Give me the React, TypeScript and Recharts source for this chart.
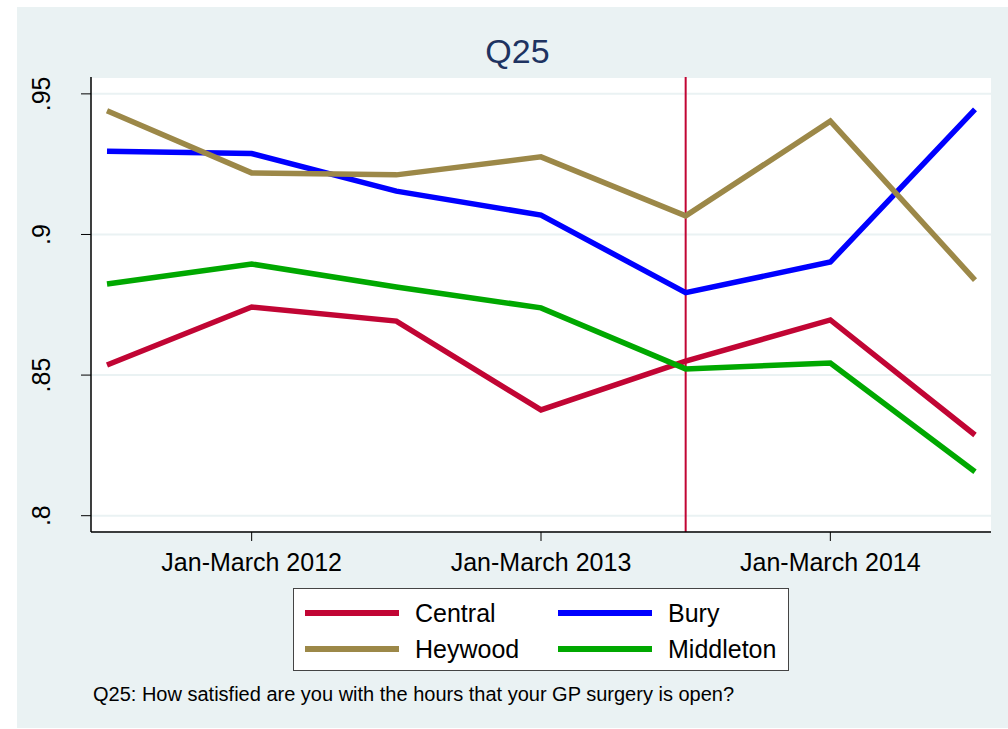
import { LineChart, Line, XAxis, YAxis, CartesianGrid, ReferenceLine } from 'recharts';

const periods = [0, 1, 2, 3, 4, 5, 6];
const central = [0.8536, 0.8742, 0.8692, 0.8376, 0.855, 0.8696, 0.8287];
const bury = [0.9296, 0.9288, 0.9154, 0.9069, 0.8793, 0.8902, 0.9445];
const heywood = [0.944, 0.9219, 0.9212, 0.9276, 0.9066, 0.9403, 0.8838];
const middleton = [0.8824, 0.8895, 0.8813, 0.8739, 0.8522, 0.8543, 0.8156];

const xTicks = [1, 3, 5];
const xTickLabels: Record<number, string> = {
  1: 'Jan-March 2012',
  3: 'Jan-March 2013',
  5: 'Jan-March 2014',
};
const yTicks = [0.8, 0.85, 0.9, 0.95];

const data = periods.map((p, i) => ({
  t: p,
  Central: central[i],
  Bury: bury[i],
  Heywood: heywood[i],
  Middleton: middleton[i],
}));

const series = [
  { key: 'Central', color: '#C10534' },
  { key: 'Bury', color: '#0000FF' },
  { key: 'Heywood', color: '#9C8848' },
  { key: 'Middleton', color: '#00A800' },
];

const FONT = '"Liberation Sans", Arial, sans-serif';

const fmtY = (v: number) => String(Number(v.toFixed(2))).replace(/^0/, '');

const YTick = (props: any) => {
  const { y, payload } = props;
  return (
    <text
      transform={`translate(50,${y}) rotate(-90)`}
      textAnchor="middle"
      fontSize={25}
      fontFamily={FONT}
      fill="#000"
    >
      {fmtY(payload.value)}
    </text>
  );
};

const XTick = (props: any) => {
  const { x, y, payload } = props;
  return (
    <text x={x} y={y + 28} textAnchor="middle" fontSize={25} fontFamily={FONT} fill="#000">
      {xTickLabels[payload.value]}
    </text>
  );
};

const LegendBox = () => {
  const item = (s: { key: string; color: string }) => (
    <div key={s.key} style={{ display: 'flex', alignItems: 'center', height: 36 }}>
      <div style={{ width: 94, height: 6, background: s.color, marginRight: 16 }} />
      <span style={{ fontSize: 25, fontFamily: FONT, color: '#000' }}>{s.key}</span>
    </div>
  );
  return (
    <div
      style={{
        position: 'absolute',
        left: 293,
        top: 588,
        boxSizing: 'border-box',
        width: 496,
        height: 83,
        border: '1px solid #444',
        background: '#fff',
        padding: '6px 0 0 11px',
        display: 'grid',
        gridTemplateColumns: '253px 230px',
        gridAutoRows: '36px',
      }}
    >
      {item(series[0])}
      {item(series[1])}
      {item(series[2])}
      {item(series[3])}
    </div>
  );
};

export default function App() {
  return (
    <div style={{ position: 'absolute', left: 0, top: 0, width: 1008, height: 729, background: '#fff', overflow: 'hidden' }}>
      <div style={{ position: 'absolute', left: 17, top: 7, width: 991, height: 721, background: '#EAF2F3' }} />
      <div
        style={{
          position: 'absolute',
          left: 0,
          width: 1035,
          top: 32,
          textAlign: 'center',
          fontSize: 34,
          fontFamily: FONT,
          color: '#1E3361',
        }}
      >
        Q25
      </div>
      <div
        style={{
          position: 'absolute',
          left: 93,
          top: 683,
          fontSize: 20,
          fontFamily: FONT,
          color: '#000',
          whiteSpace: 'nowrap',
        }}
      >
        Q25: How satisfied are you with the hours that your GP surgery is open?
      </div>
      <div style={{ position: 'absolute', left: 0, top: 0 }}>
        <LineChart width={1008} height={729} data={data} margin={{ top: 77, right: 17, bottom: 137, left: 11 }}>
          <CartesianGrid vertical={false} stroke="#EAF2F3" strokeWidth={2} fill="#fff" />
          <XAxis
            dataKey="t"
            type="number"
            domain={[0, 6]}
            ticks={xTicks}
            padding={{ left: 16, right: 16 }}
            height={60}
            tickSize={9}
            axisLine={{ stroke: '#000', strokeWidth: 1.5 }}
            tickLine={{ stroke: '#000' }}
            tick={<XTick />}
          />
          <YAxis
            type="number"
            domain={[0.7942, 0.956]}
            ticks={yTicks}
            width={80}
            tickSize={10}
            axisLine={{ stroke: '#000', strokeWidth: 1.5 }}
            tickLine={{ stroke: '#000' }}
            tick={<YTick />}
            allowDataOverflow
          />
          <ReferenceLine x={4} stroke="#C10534" strokeWidth={2} />
          {series.map((s) => (
            <Line
              key={s.key}
              dataKey={s.key}
              stroke={s.color}
              strokeWidth={5.5}
              dot={false}
              activeDot={false}
              strokeLinejoin="miter"
              isAnimationActive={false}
            />
          ))}
        </LineChart>
      </div>
      <LegendBox />
    </div>
  );
}
